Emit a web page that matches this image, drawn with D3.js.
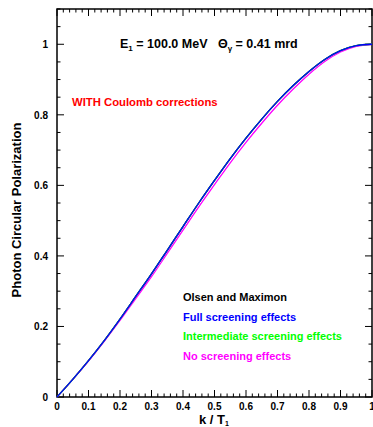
<!DOCTYPE html>
<html>
<head>
<meta charset="utf-8">
<script src="https://cdn.jsdelivr.net/npm/d3@7"></script>
<style>
  body { margin: 0; background: #fff; }
  text { font-family: "Liberation Sans", Arial, sans-serif; font-weight: bold; white-space: pre; }
</style>
</head>
<body>
<div id="chart-area"></div>
<script>
// data
let kT = [0, 0.05, 0.1, 0.15, 0.2, 0.25, 0.3, 0.35, 0.4, 0.45, 0.5, 0.55, 0.6, 0.65, 0.7, 0.75, 0.8, 0.85, 0.9, 0.95, 1.0];
let olsenMaximon = [0, 0.05, 0.103, 0.16, 0.221, 0.285, 0.349, 0.416, 0.483, 0.55, 0.614, 0.676, 0.734, 0.788, 0.838, 0.883, 0.923, 0.957, 0.982, 0.996, 1.0];
let fullScreen   = [0, 0.05, 0.103, 0.16, 0.221, 0.285, 0.349, 0.416, 0.483, 0.55, 0.614, 0.676, 0.734, 0.788, 0.838, 0.883, 0.923, 0.957, 0.982, 0.996, 1.0];
let interScreen  = [0, 0.05, 0.103, 0.16, 0.221, 0.285, 0.349, 0.416, 0.483, 0.55, 0.614, 0.676, 0.734, 0.788, 0.838, 0.883, 0.923, 0.957, 0.982, 0.996, 1.0];
let noScreen     = [0, 0.05, 0.102, 0.158, 0.217, 0.279, 0.341, 0.407, 0.473, 0.539, 0.602, 0.664, 0.722, 0.776, 0.827, 0.873, 0.915, 0.951, 0.978, 0.994, 1.0];

let xTicks = [0, 0.1, 0.2, 0.3, 0.4, 0.5, 0.6, 0.7, 0.8, 0.9, 1];
let yTicks = [0, 0.2, 0.4, 0.6, 0.8, 1];

let series = [
  {name: "Olsen and Maximon", color: "#000000", vals: olsenMaximon},
  {name: "No screening effects", color: "#ff00ff", vals: noScreen},
  {name: "Intermediate screening effects", color: "#00ff00", vals: interScreen},
  {name: "Full screening effects", color: "#0000ff", vals: fullScreen}
];
let legendOrder = [0, 3, 2, 1];

let W = 373, H = 427;
let m = {top: 9, right: 1, bottom: 30, left: 57};
let w = W - m.left - m.right;
let h = H - m.top - m.bottom;

let svg = d3.select("#chart-area")
    .append("svg")
    .attr("width", W)
    .attr("height", H);

let g = svg.append("g")
    .attr("transform", "translate(" + m.left + "," + m.top + ")");

let x = d3.scaleLinear().domain([0, 1]).range([0, w]);
let y = d3.scaleLinear().domain([0, 1.1]).range([h, 0]);

// frame
g.append("rect")
    .attr("width", w).attr("height", h)
    .attr("fill", "none").attr("stroke", "#000").attr("stroke-width", 1.5);

// inward ticks on all sides
let xMinor = d3.range(0, 1.0001, 0.02);
let yMinor = d3.range(0, 1.1001, 0.05);
function isMajor(v, step) { return Math.abs(v / step - Math.round(v / step)) < 1e-6; }

g.selectAll(".xtick").data(xMinor).enter().append("line")
    .attr("x1", d => x(d)).attr("x2", d => x(d))
    .attr("y1", h).attr("y2", d => h - (isMajor(d, 0.1) ? 7 : 3.5))
    .attr("stroke", "#000");
g.selectAll(".xtickt").data(xMinor).enter().append("line")
    .attr("x1", d => x(d)).attr("x2", d => x(d))
    .attr("y1", 0).attr("y2", d => (isMajor(d, 0.1) ? 7 : 3.5))
    .attr("stroke", "#000");
g.selectAll(".ytick").data(yMinor).enter().append("line")
    .attr("y1", d => y(d)).attr("y2", d => y(d))
    .attr("x1", 0).attr("x2", d => (isMajor(d, 0.2) ? 7 : 3.5))
    .attr("stroke", "#000");
g.selectAll(".ytickr").data(yMinor).enter().append("line")
    .attr("y1", d => y(d)).attr("y2", d => y(d))
    .attr("x1", w).attr("x2", d => w - (isMajor(d, 0.2) ? 7 : 3.5))
    .attr("stroke", "#000");

// tick labels
g.selectAll(".xlab").data(xTicks).enter().append("text")
    .attr("x", d => x(d)).attr("y", h + 13)
    .attr("text-anchor", "middle").attr("font-size", "10px")
    .text(d => d === 0 ? "0" : d === 1 ? "1" : d.toFixed(1));
g.selectAll(".ylab").data(yTicks).enter().append("text")
    .attr("x", -9).attr("y", d => y(d) + 4)
    .attr("text-anchor", "end").attr("font-size", "10px")
    .text(d => d === 0 ? "0" : d === 1 ? "1" : d.toFixed(1));

// curves
let line = d3.line()
    .x((d, i) => x(kT[i]))
    .y(d => y(d))
    .curve(d3.curveMonotoneX);

g.selectAll(".curve").data(series).enter().append("path")
    .attr("d", d => line(d.vals))
    .attr("fill", "none")
    .attr("stroke", d => d.color)
    .attr("stroke-width", 1.3);

// annotations
let title = g.append("text")
    .attr("x", 63).attr("y", 39)
    .attr("font-size", "12.5px");
title.append("tspan").text("E");
title.append("tspan").attr("font-size", "8px").attr("dy", 3).text("1");
title.append("tspan").attr("dy", -3).text(" = 100.0 MeV   \u0398");
title.append("tspan").attr("font-size", "8px").attr("dy", 3).text("\u03b3");
title.append("tspan").attr("dy", -3).text(" = 0.41 mrd");

g.append("text")
    .attr("x", 15).attr("y", 97)
    .attr("font-size", "11.3px").attr("fill", "#ff0000")
    .text("WITH Coulomb corrections");

g.selectAll(".leg").data(legendOrder).enter().append("text")
    .attr("x", 126).attr("y", (d, i) => 292 + i * 19.6)
    .attr("font-size", "11px")
    .attr("fill", d => series[d].color)
    .text(d => series[d].name);

// axis titles
let xt = svg.append("text")
    .attr("x", 214).attr("y", 424)
    .attr("text-anchor", "middle").attr("font-size", "13px");
xt.append("tspan").text("k / T");
xt.append("tspan").attr("font-size", "7px").attr("dy", 2).text("1");

svg.append("text")
    .attr("transform", "translate(21," + 210 + ") rotate(-90)")
    .attr("text-anchor", "middle").attr("font-size", "13px")
    .text("Photon Circular Polarization");
</script>
</body>
</html>
